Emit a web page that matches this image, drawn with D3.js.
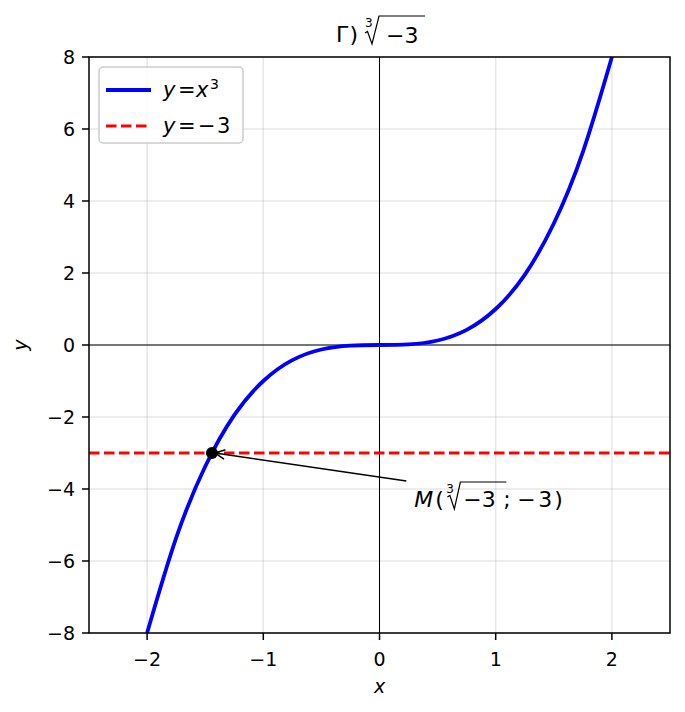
<!DOCTYPE html>
<html>
<head>
<meta charset="utf-8">
<script src="https://cdn.jsdelivr.net/npm/d3@7"></script>
<style>
  body { margin: 0; background: #fff; }
  svg text { font-family: "DejaVu Sans", sans-serif; }
</style>
</head>
<body>
<svg id="chart" width="685" height="712"></svg>
<script>
var curveX = [-2, -1.75, -1.5, -1.25, -1, -0.75, -0.5, -0.25, 0, 0.25, 0.5, 0.75, 1, 1.25, 1.5, 1.75, 2]
var curveY = [-8, -5.36, -3.375, -1.95, -1, -0.42, -0.125, -0.016, 0, 0.016, 0.125, 0.42, 1, 1.95, 3.375, 5.36, 8]
var lineLevel = -3
var pointM = [-1.442, -3]
var labelPos = [0.3, -4.5]
var xTicks = [-2, -1, 0, 1, 2]
var yTicks = [-8, -6, -4, -2, 0, 2, 4, 6, 8]

var margin = { left: 89, top: 57, right: 15, bottom: 79 }
var width = 685 - margin.left - margin.right
var height = 712 - margin.top - margin.bottom

var svg = d3.select('#chart')
var g = svg.append('g').attr('transform', 'translate(' + margin.left + ',' + margin.top + ')')

var x = d3.scaleLinear().domain([-2.5, 2.5]).range([0, width])
var y = d3.scaleLinear().domain([-8, 8]).range([height, 0])

var dash = '10.5,4.5'

function fmt (v) { return String(v).replace('-', '\u2212') }

// grid
g.selectAll('.gx').data(xTicks).enter().append('line')
  .attr('x1', d => x(d)).attr('x2', d => x(d)).attr('y1', 0).attr('y2', height)
  .attr('stroke', '#b0b0b0').attr('stroke-opacity', 0.3).attr('stroke-width', 1.5)
g.selectAll('.gy').data(yTicks).enter().append('line')
  .attr('y1', d => y(d)).attr('y2', d => y(d)).attr('x1', 0).attr('x2', width)
  .attr('stroke', '#b0b0b0').attr('stroke-opacity', 0.3).attr('stroke-width', 1.5)

// zero lines
g.append('line').attr('x1', x(0)).attr('x2', x(0)).attr('y1', 0).attr('y2', height)
  .attr('stroke', 'black').attr('stroke-width', 1)
g.append('line').attr('x1', 0).attr('x2', width).attr('y1', y(0)).attr('y2', y(0))
  .attr('stroke', 'black').attr('stroke-width', 1)

// y = -3
g.append('line').attr('x1', 0).attr('x2', width).attr('y1', y(lineLevel)).attr('y2', y(lineLevel))
  .attr('stroke', 'red').attr('stroke-width', 2.8).attr('stroke-dasharray', dash)

// curve
var pts = curveX.map((v, i) => [v, curveY[i]])
g.append('path').datum(pts)
  .attr('d', d3.line().x(d => x(d[0])).y(d => y(d[1])).curve(d3.curveNatural))
  .attr('fill', 'none').attr('stroke', 'blue').attr('stroke-width', 3.8)

// point M
g.append('circle').attr('cx', x(pointM[0])).attr('cy', y(pointM[1])).attr('r', 6).attr('fill', 'black')

// annotation arrow
var tx = x(labelPos[0])
var ty = y(labelPos[1])
var ax0 = tx - 8
var ay0 = ty - 26
var ax1 = x(pointM[0]) + 3
var ay1 = y(pointM[1])
g.append('line').attr('x1', ax0).attr('y1', ay0).attr('x2', ax1).attr('y2', ay1)
  .attr('stroke', 'black').attr('stroke-width', 1.5)
var ang = Math.atan2(ay0 - ay1, ax0 - ax1)
var hl = 11
var hw = 0.45
g.append('path')
  .attr('d', 'M' + (ax1 + hl * Math.cos(ang - hw)) + ',' + (ay1 + hl * Math.sin(ang - hw)) +
    'L' + ax1 + ',' + ay1 +
    'L' + (ax1 + hl * Math.cos(ang + hw)) + ',' + (ay1 + hl * Math.sin(ang + hw)))
  .attr('fill', 'none').attr('stroke', 'black').attr('stroke-width', 1.5)

// annotation text M(∛−3; −3)
var ann = g.append('g').attr('transform', 'translate(' + tx + ',' + ty + ')')
var at = ann.append('text').attr('font-size', 22)
at.append('tspan').attr('x', 0).attr('y', 0).attr('font-style', 'italic').text('M')
at.append('tspan').attr('x', 21).attr('y', 0).text('(')
at.append('tspan').attr('x', 32).attr('y', -14).attr('font-size', 12).text('3')
at.append('tspan').attr('x', 49).attr('y', 0).text('\u22123')
at.append('tspan').attr('x', 89).attr('y', 0).text(';')
at.append('tspan').attr('x', 103).attr('y', 0).text('\u2212')
at.append('tspan').attr('x', 124).attr('y', 0).text('3')
at.append('tspan').attr('x', 140).attr('y', 0).text(')')
ann.append('path').attr('d', 'M33,-10 L35.5,-11.5 L40,2 L46,-25 L92,-25')
  .attr('fill', 'none').attr('stroke', 'black').attr('stroke-width', 1.2)

// frame
g.append('rect').attr('width', width).attr('height', height).attr('fill', 'none').attr('stroke', 'black').attr('stroke-width', 1.5)

// ticks
g.selectAll('.tx').data(xTicks).enter().append('line')
  .attr('x1', d => x(d)).attr('x2', d => x(d)).attr('y1', height).attr('y2', height + 7)
  .attr('stroke', 'black').attr('stroke-width', 1.5)
g.selectAll('.tlx').data(xTicks).enter().append('text')
  .attr('x', d => x(d)).attr('y', height + 33).attr('text-anchor', 'middle').attr('font-size', 19)
  .text(d => fmt(d))
g.selectAll('.ty').data(yTicks).enter().append('line')
  .attr('y1', d => y(d)).attr('y2', d => y(d)).attr('x1', -7).attr('x2', 0)
  .attr('stroke', 'black').attr('stroke-width', 1.5)
g.selectAll('.tly').data(yTicks).enter().append('text')
  .attr('x', -14).attr('y', d => y(d) + 7).attr('text-anchor', 'end').attr('font-size', 19)
  .text(d => fmt(d))

// axis labels
svg.append('text').attr('x', margin.left + x(0)).attr('y', 693).attr('text-anchor', 'middle')
  .attr('font-size', 19).attr('font-style', 'italic').text('x')
svg.append('text').attr('transform', 'translate(27,' + (margin.top + y(0)) + ') rotate(-90)')
  .attr('text-anchor', 'middle').attr('font-size', 19).attr('font-style', 'italic').text('y')

// title Г) ∛−3
var t = svg.append('g').attr('transform', 'translate(336,42)')
var tt = t.append('text').attr('font-size', 22)
tt.append('tspan').attr('x', 0).attr('y', 0).text('\u0413)')
tt.append('tspan').attr('x', 29).attr('y', -15).attr('font-size', 12).text('3')
tt.append('tspan').attr('x', 50).attr('y', 1).text('\u22123')
t.append('path').attr('d', 'M29,-9 L31.5,-10.5 L36,2 L43,-26 L89,-26')
  .attr('fill', 'none').attr('stroke', 'black').attr('stroke-width', 1.2)

// legend
var lg = g.append('g').attr('transform', 'translate(10,10)')
lg.append('rect').attr('width', 144).attr('height', 76).attr('rx', 4)
  .attr('fill', 'white').attr('fill-opacity', 0.8).attr('stroke', '#cccccc').attr('stroke-width', 1.5)
var items = [
  { color: 'blue', dash: null, w: 3.8 },
  { color: 'red', dash: dash, w: 2.8 }
]
items.forEach(function (it, i) {
  var yy = 23 + i * 36
  lg.append('line').attr('x1', 7).attr('x2', 52).attr('y1', yy).attr('y2', yy)
    .attr('stroke', it.color).attr('stroke-width', it.w).attr('stroke-dasharray', it.dash)
})
var l1 = lg.append('text').attr('font-size', 21)
l1.append('tspan').attr('x', 64).attr('y', 30).attr('font-style', 'italic').text('y')
l1.append('tspan').attr('x', 79).attr('y', 30).text('=')
l1.append('tspan').attr('x', 97).attr('y', 30).attr('font-style', 'italic').text('x')
l1.append('tspan').attr('x', 111).attr('y', 22).attr('font-size', 14).text('3')
var l2 = lg.append('text').attr('font-size', 21)
l2.append('tspan').attr('x', 64).attr('y', 66).attr('font-style', 'italic').text('y')
l2.append('tspan').attr('x', 79).attr('y', 66).text('=')
l2.append('tspan').attr('x', 99).attr('y', 66).text('\u2212')
l2.append('tspan').attr('x', 118).attr('y', 66).text('3')
</script>
</body>
</html>
